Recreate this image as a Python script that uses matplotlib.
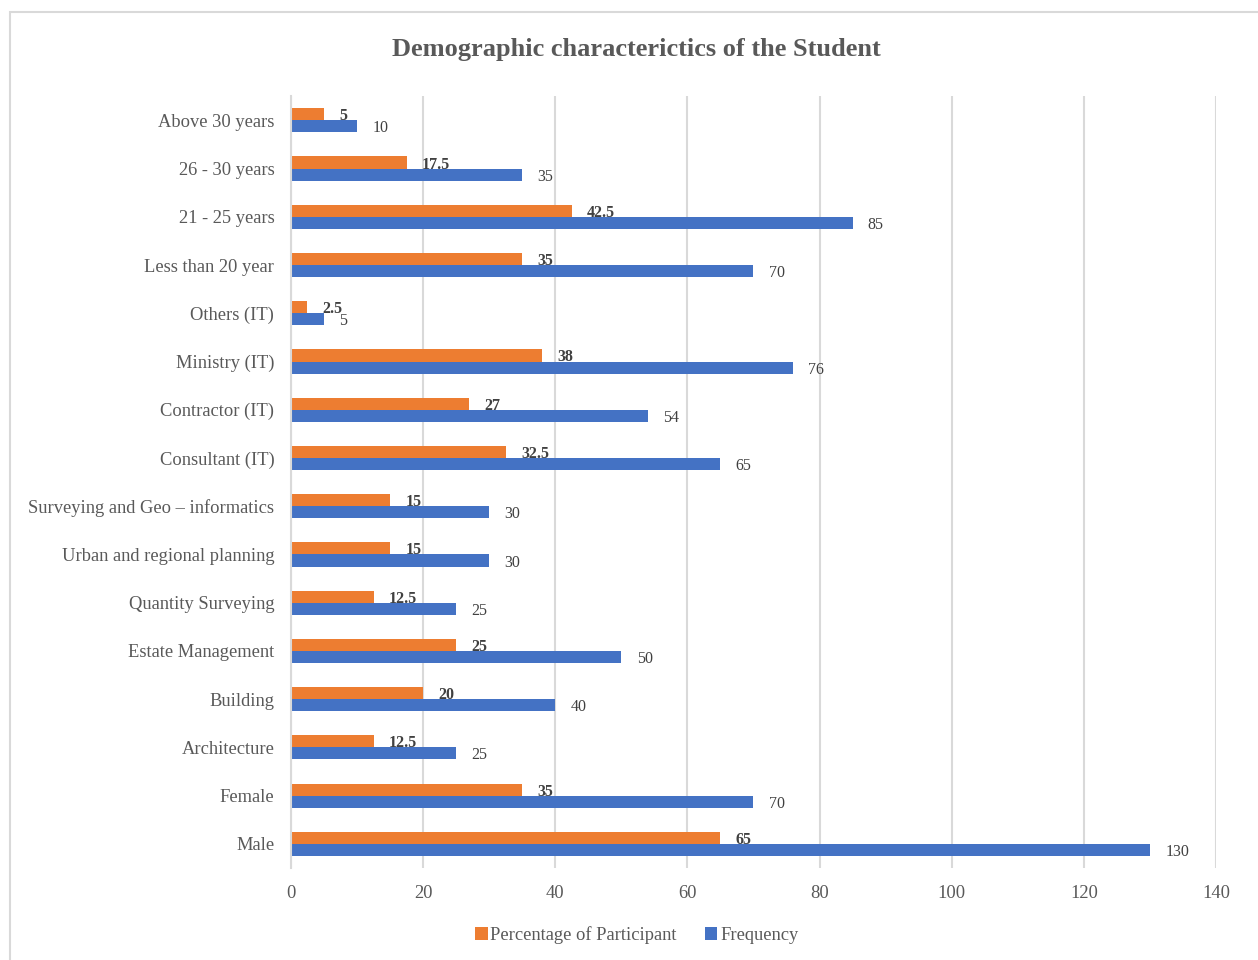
import matplotlib.pyplot as plt
from matplotlib.patches import Rectangle
import numpy as np

plt.rcParams['font.family'] = ['Liberation Serif', 'DejaVu Serif']

# categories, bottom to top
categories = ['Male', 'Female', 'Architecture', 'Building', 'Estate Management',
              'Quantity Surveying', 'Urban and regional planning',
              'Surveying and Geo \u2013 informatics', 'Consultant (IT)',
              'Contractor (IT)', 'Ministry (IT)', 'Others (IT)',
              'Less than 20 year', '21 - 25 years', '26 - 30 years',
              'Above 30 years']
frequency = [130, 70, 25, 40, 50, 25, 30, 30, 65, 54, 76, 5, 70, 85, 35, 10]
percentage = [65, 35, 12.5, 20, 25, 12.5, 15, 15, 32.5, 27, 38, 2.5, 35, 42.5, 17.5, 5]

orange = '#ED7D31'
blue = '#4472C4'
grey = '#595959'

fig = plt.figure(figsize=(12.58, 9.6), dpi=100)
ax = fig.add_axes([0.2313, 0.0958, 0.7353, 0.804])

y = np.arange(len(categories))
h = 0.25
b1 = ax.barh(y + h / 2, percentage, height=h, color=orange, label='Percentage of Participant')
b2 = ax.barh(y - h / 2, frequency, height=h, color=blue, label='Frequency')

l1 = ax.bar_label(b1, labels=[f'{v:g}' for v in percentage], padding=11,
                  fontsize=11.5, fontweight='bold', color='#404040')
l2 = ax.bar_label(b2, labels=[f'{v:g}' for v in frequency], padding=11,
                  fontsize=11.5, color='#404040')
for t in list(l1) + list(l2):
    t.set_va('center_baseline')

ax.set_xlim(0, 140)
ax.set_ylim(-0.5, len(categories) - 0.5)
ax.set_xticks(range(0, 141, 20))
ax.set_yticks(y)
ax.set_yticklabels(categories)
ax.tick_params(axis='both', length=0, labelsize=13.3, labelcolor=grey)
ax.tick_params(axis='y', pad=12)
ax.tick_params(axis='x', pad=12)
ax.grid(axis='x', color='#d9d9d9', linewidth=1.5)
ax.set_axisbelow(True)
for s in ['top', 'right', 'bottom']:
    ax.spines[s].set_visible(False)
ax.spines['left'].set_color('#d9d9d9')
ax.spines['left'].set_linewidth(1.5)

fig.text(0.506, 0.948, 'Demographic characterictics of the Student',
         ha='center', va='center', fontsize=19, fontweight='bold', color=grey)

fig.legend(loc='center', bbox_to_anchor=(0.506, 0.026), ncol=2, frameon=False,
           fontsize=13.3, labelcolor=grey, handlelength=0.7, handleheight=0.7,
           handletextpad=0.15, columnspacing=1.5)

fig.patches.append(Rectangle((10 / 1258, -0.01), 1.0, 1 - 12 / 960 + 0.01,
                             transform=fig.transFigure, fill=False,
                             edgecolor='#d9d9d9', linewidth=1.5))

fig.savefig('out.png', dpi=100)
